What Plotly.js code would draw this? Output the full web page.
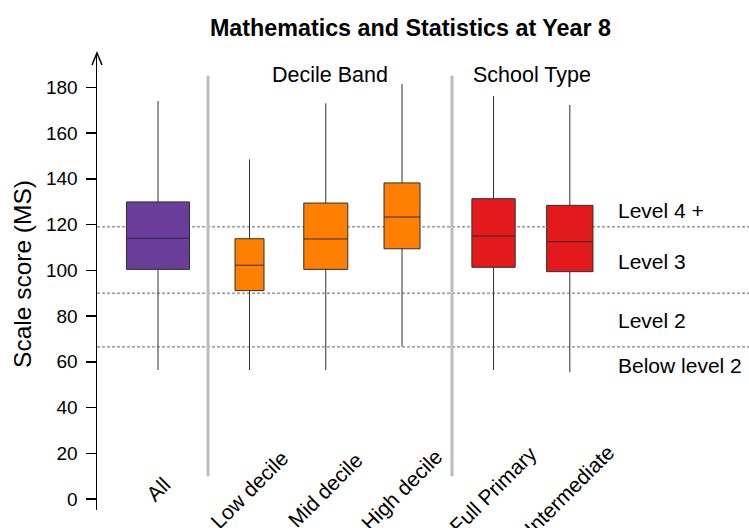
<!DOCTYPE html>
<html>
<head>
<meta charset="utf-8">
<script src="https://cdn.plot.ly/plotly-3.0.1.min.js"></script>
<style>html,body{margin:0;padding:0;background:#fff;}#chart{width:749px;height:528px;}</style>
</head>
<body>
<div id="chart"></div>
<script>
// ---- data ----
var categories = ["All", "Low decile", "Mid decile", "High decile", "Full Primary", "Intermediate"];
var lowerWhisker = [56.4, 56.4, 56.4, 66.6, 56.4, 55.4];
var q1Values     = [100.4, 91.1, 100.4, 109.4, 101.3, 99.4];
var medianValues = [114.0, 102.2, 113.7, 123.3, 115.0, 112.5];
var q3Values     = [129.9, 113.8, 129.4, 138.2, 131.3, 128.4];
var upperWhisker = [174.0, 148.5, 173.0, 181.5, 176.2, 172.3];
var levelCuts = [119, 90, 66.5];
var levelLabels = ["Level 4 +", "Level 3", "Level 2", "Below level 2"];
var groupLabels = ["Decile Band", "School Type"];
var yTicks = [0, 20, 40, 60, 80, 100, 120, 140, 160, 180];

// ---- layout config (positions / sizes / styles) ----
var xPos = [1, 2.2, 3.2, 4.2, 5.4, 6.4];
var boxWidths = [0.826, 0.38, 0.577, 0.472, 0.568, 0.608];
var boxColors = ["#6A3D9A", "#FF7F00", "#FF7F00", "#FF7F00", "#E31A1C", "#E31A1C"];
var separatorX = [1.656, 4.855];
var levelLabelY = [126, 104, 78, 58.5];
var groupLabelX = [3.25, 5.9];
var FONT = "Liberation Sans, Arial, Helvetica, sans-serif";

var traces = categories.map(function (c, i) {
  return {
    type: "box",
    name: c,
    x: [xPos[i]],
    q1: [q1Values[i]],
    median: [medianValues[i]],
    q3: [q3Values[i]],
    lowerfence: [lowerWhisker[i]],
    upperfence: [upperWhisker[i]],
    width: boxWidths[i],
    whiskerwidth: 0,
    boxpoints: false,
    fillcolor: boxColors[i],
    line: {color: "#303030", width: 1},
    showlegend: false,
    hoverinfo: "y+name"
  };
});

var shapes = [];
levelCuts.forEach(function (v) {
  shapes.push({type: "line", xref: "paper", yref: "y", x0: 0, x1: 1, y0: v, y1: v,
    line: {color: "#666666", width: 1, dash: "3px,2px"}, layer: "below"});
});
separatorX.forEach(function (sx) {
  shapes.push({type: "line", xref: "x", yref: "y", x0: sx, x1: sx, y0: 10, y1: 185,
    line: {color: "#BDBDBD", width: 3}, layer: "below"});
});
// arrowhead on top of y axis
shapes.push({type: "path", xref: "paper", yref: "paper", xsizemode: "pixel", ysizemode: "pixel",
  xanchor: 0, yanchor: 1, path: "M-5,-12 L0,0 L5,-12", line: {color: "#000", width: 1.5}});

var annotations = [];
levelLabels.forEach(function (t, i) {
  annotations.push({x: 7, y: levelLabelY[i], xref: "x", yref: "y", text: t, showarrow: false,
    xanchor: "left", yanchor: "middle", font: {family: FONT, size: 21, color: "#000"}});
});
groupLabels.forEach(function (t, i) {
  annotations.push({x: groupLabelX[i], y: 185.3, xref: "x", yref: "y", text: t, showarrow: false,
    xanchor: "center", yanchor: "middle", font: {family: FONT, size: 21.5, color: "#000"}});
});
categories.forEach(function (c, i) {
  annotations.push({x: xPos[i], y: 4, xref: "x", yref: "y", text: c, showarrow: false,
    textangle: -45, xanchor: "center", yanchor: "middle",
    font: {family: FONT, size: 21, color: "#000"}});
});
// y-axis title placed as rotated text
annotations.push({x: 0, xref: "paper", xshift: -74, y: 98.4, yref: "y", text: "Scale score (MS)",
  showarrow: false, textangle: -90, xanchor: "center", yanchor: "middle",
  font: {family: FONT, size: 24.5, color: "#000"}});

var layout = {
  width: 749, height: 528,
  margin: {l: 97, r: 0, t: 53, b: 18, pad: 0},
  paper_bgcolor: "#fff", plot_bgcolor: "#fff",
  boxmode: "overlay",
  showlegend: false,
  title: {text: "<b>Mathematics and Statistics at Year 8</b>", x: 0.548, xref: "container", xanchor: "center",
    y: 0.947, yref: "container", yanchor: "middle", font: {family: FONT, size: 23.3, color: "#000"}},
  xaxis: {range: [0.2, 8.75], showgrid: false, zeroline: false, showline: false,
    showticklabels: false, ticks: "", fixedrange: true},
  yaxis: {range: [-4.8, 195], tickvals: yTicks, ticktext: yTicks.map(String), ticks: "outside",
    ticklen: 10, tickwidth: 1.5, tickcolor: "#000", showline: true, linecolor: "#000", linewidth: 1.5,
    showgrid: false, zeroline: false, ticklabelstandoff: 4,
    tickfont: {family: FONT, size: 19, color: "#000"},
    title: {text: ""}},
  shapes: shapes,
  annotations: annotations
};

Plotly.newPlot("chart", traces, layout, {displayModeBar: false, staticPlot: true});
</script>
</body>
</html>
